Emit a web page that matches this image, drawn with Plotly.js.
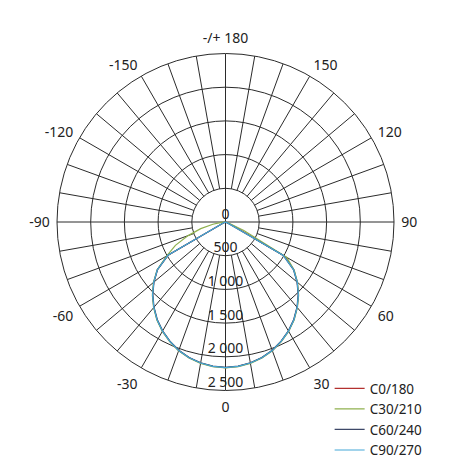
<!DOCTYPE html>
<html>
<head>
<meta charset="utf-8">
<script src="https://cdn.plot.ly/plotly-3.0.1.min.js"></script>
<style>
  html, body { margin: 0; padding: 0; background: #fff; }
  #chart { width: 470px; height: 466px; }
</style>
</head>
<body>
<div id="chart"></div>
<script>
// gamma angles (deg), negative = left half plane
var gamma = [-90,-85,-80,-75,-70,-65,-60,-55,-50,-45,-40,-35,-30,-25,-20,-15,-10,-5,
             0,5,10,15,20,25,30,35,40,45,50,55,60,65,70,75,80,85,90];

// luminous intensity, cd
var c0_180 = [0,0,0,0,0,30,990,1235,1390,1530,1655,1770,1870,1955,2030,2085,2125,2150,
              2160,2150,2125,2085,2030,1955,1870,1770,1655,1530,1390,1240,1020,120,0,0,0,0,0];
var c30_210 = [0,60,190,380,590,820,1010,1240,1395,1535,1660,1775,1875,1960,2035,2090,2130,2155,
               2165,2155,2130,2090,2035,1960,1875,1775,1660,1535,1395,1245,1050,300,40,0,0,0,0];
var c60_240 = [0,0,0,0,0,20,980,1230,1385,1525,1650,1765,1865,1950,2025,2080,2120,2145,
               2155,2145,2120,2080,2025,1950,1865,1765,1650,1525,1385,1230,985,25,0,0,0,0,0];
var c90_270 = [0,0,0,0,0,30,985,1235,1390,1530,1655,1770,1870,1955,2030,2085,2125,2150,
               2160,2150,2125,2085,2030,1955,1870,1770,1655,1530,1390,1235,990,30,0,0,0,0,0];

var seriesNames = ["C0/180", "C30/210", "C60/240", "C90/270"];
var seriesColors = ["#b3312f", "#8fb04e", "#3d4868", "#45a8d8"];

// axis ticks
var angTickVals = [0,30,60,90,120,150,180,210,240,270,300,330];
var angTickText = ["0","30","60","90","120","150","-/+ 180","-150","-120","-90","-60","-30"];
var radTickVals = [0,500,1000,1500,2000,2500];
var radTickText = ["0","500","1 000","1 500","2 000","2 500"];

var rMax = 2500;
var innerR = 500;
var gridColor = "#2b2b2b";
var fontFam = "Noto Sans, Open Sans, sans-serif";

// spokes every 10 deg; the main cross goes to the centre, the rest start at the 500 ring
var spokeR = [], spokeT = [];
for (var a = 0; a < 360; a += 10) {
    var start = (a % 90 === 0) ? 0 : innerR;
    spokeR.push(start, rMax, null);
    spokeT.push(a, a, null);
}

var data = [{
    type: "scatterpolar",
    mode: "lines",
    r: spokeR,
    theta: spokeT,
    line: { color: gridColor, width: 1 },
    hoverinfo: "skip",
    showlegend: false
}];

var allSeries = [c0_180, c30_210, c60_240, c90_270];
for (var i = 0; i < allSeries.length; i++) {
    data.push({
        type: "scatterpolar",
        mode: "lines",
        r: allSeries[i],
        theta: gamma,
        name: seriesNames[i],
        line: { color: seriesColors[i], width: 1.2 }
    });
}

// radial labels along the 0 deg axis
data.push({
    type: "scatterpolar",
    mode: "text",
    r: radTickVals,
    theta: radTickVals.map(function(){ return 0; }),
    text: radTickText,
    textposition: "top center",
    textfont: { family: fontFam, size: 14, color: "#222" },
    hoverinfo: "skip",
    showlegend: false
});

var layout = {
    width: 470,
    height: 466,
    margin: { l: 56.5, r: 75.5, t: 53, b: 75, pad: 0, autoexpand: false },
    paper_bgcolor: "#fff",
    font: { family: fontFam, size: 14, color: "#222" },
    showlegend: true,
    legend: {
        x: 0.809,
        y: 0.053,
        xanchor: "left",
        yanchor: "top",
        bgcolor: "rgba(0,0,0,0)",
        font: { family: fontFam, size: 13.5, color: "#222" },
        itemwidth: 30
    },
    polar: {
        bgcolor: "#fff",
        domain: { x: [0, 1], y: [0, 1] },
        angularaxis: {
            rotation: -90,
            direction: "counterclockwise",
            tickmode: "array",
            tickvals: angTickVals,
            ticktext: angTickText,
            ticks: "outside",
            ticklen: 4,
            tickcolor: "rgba(0,0,0,0)",
            showgrid: false,
            showline: true,
            linecolor: gridColor,
            linewidth: 1,
            tickfont: { family: fontFam, size: 14, color: "#222" }
        },
        radialaxis: {
            range: [0, rMax],
            tickmode: "array",
            tickvals: [500, 1000, 1500, 2000, 2500],
            showticklabels: false,
            ticks: "",
            showline: false,
            showgrid: true,
            gridcolor: gridColor,
            gridwidth: 1
        }
    }
};

Plotly.newPlot("chart", data, layout, { displayModeBar: false, staticPlot: true });
</script>
</body>
</html>
